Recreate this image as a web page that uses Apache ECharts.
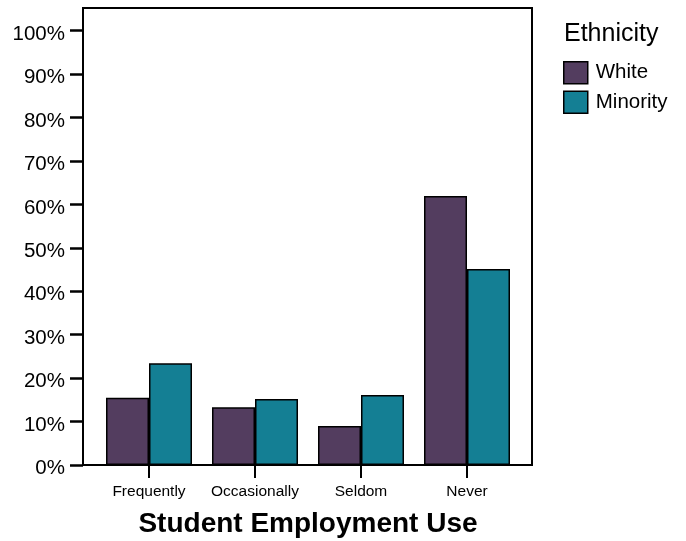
<!DOCTYPE html>
<html>
<head>
<meta charset="utf-8">
<script src="https://cdn.jsdelivr.net/npm/echarts@6/dist/echarts.min.js"></script>
<style>html,body{margin:0;padding:0;background:#fff}#c{width:686px;height:541px}</style>
</head>
<body>
<div id="c"></div>
<script>
var categories = ['Frequently', 'Occasionally', 'Seldom', 'Never'];
var whiteValues = [15.5, 13.3, 9.0, 61.9];
var minorityValues = [23.4, 15.2, 16.1, 45.1];
var yTicks = [0, 10, 20, 30, 40, 50, 60, 70, 80, 90, 100];
var seriesNames = ['White', 'Minority'];
var legendTitle = 'Ethnicity';
var xTitle = 'Student Employment Use';

var FONT = 'Liberation Sans, Arial, sans-serif';
var YMAX = 105.2;
var chart = echarts.init(document.getElementById('c'), null, {renderer: 'canvas'});
chart.setOption({
  animation: false,
  backgroundColor: '#fff',
  textStyle: {fontFamily: FONT},
  title: {
    text: legendTitle, left: 564, top: 22, padding: 0,
    textStyle: {fontFamily: FONT, fontSize: 25, fontWeight: 'normal', color: '#000'}
  },
  legend: {
    data: seriesNames, orient: 'vertical', left: 563, top: 61, padding: 0,
    icon: 'rect', itemWidth: 24, itemHeight: 22, itemGap: 6,
    textStyle: {fontFamily: FONT, fontSize: 20.5, color: '#000', padding: [0, 0, 0, 3]},
    itemStyle: {borderColor: '#000', borderWidth: 1.5}
  },
  grid: [
    {left: 83, right: 154, top: 8, bottom: 76, show: true, borderColor: '#000', borderWidth: 2,
      outerBoundsMode: 'none', containLabel: false},
    {left: 96, right: 166, top: 8, bottom: 76, outerBoundsMode: 'none', containLabel: false}
  ],
  xAxis: [
    {type: 'value', gridIndex: 0, min: 0, max: 1, axisLine: {show: true, lineStyle: {color: '#000', width: 2}},
      axisTick: {show: false}, axisLabel: {show: false}, splitLine: {show: false}},
    {type: 'category', gridIndex: 1, data: categories,
      axisLine: {show: false},
      axisTick: {show: true, alignWithLabel: true, interval: 0, length: 13, lineStyle: {color: '#000', width: 2}},
      axisLabel: {fontFamily: FONT, fontSize: 15.5, color: '#000', margin: 19, interval: 0},
      name: xTitle, nameLocation: 'middle', nameGap: 45,
      nameTextStyle: {fontFamily: FONT, fontSize: 28, fontWeight: 'bold', color: '#000'}}
  ],
  yAxis: [
    {type: 'value', gridIndex: 0, min: 0, max: YMAX, interval: 10,
      axisLine: {show: true, lineStyle: {color: '#000', width: 2}},
      axisTick: {show: true, length: 13, lineStyle: {color: '#000', width: 2.5}, customValues: yTicks},
      axisLabel: {fontFamily: FONT, fontSize: 20.5, color: '#000', margin: 18, customValues: yTicks,
        verticalAlign: 'top', lineHeight: 7,
        formatter: function (v) { return v + '%'; }},
      splitLine: {show: false}},
    {type: 'value', gridIndex: 1, min: 0, max: YMAX, show: false, splitLine: {show: false}}
  ],
  series: [
    {name: seriesNames[0], type: 'bar', xAxisIndex: 1, yAxisIndex: 1, data: whiteValues,
      barWidth: 43, barGap: '0%',
      itemStyle: {color: '#533d5f', borderColor: '#000', borderWidth: 1.5}},
    {name: seriesNames[1], type: 'bar', xAxisIndex: 1, yAxisIndex: 1, data: minorityValues,
      barWidth: 43, barGap: '0%',
      itemStyle: {color: '#147f94', borderColor: '#000', borderWidth: 1.5}}
  ]
});
</script>
</body>
</html>
